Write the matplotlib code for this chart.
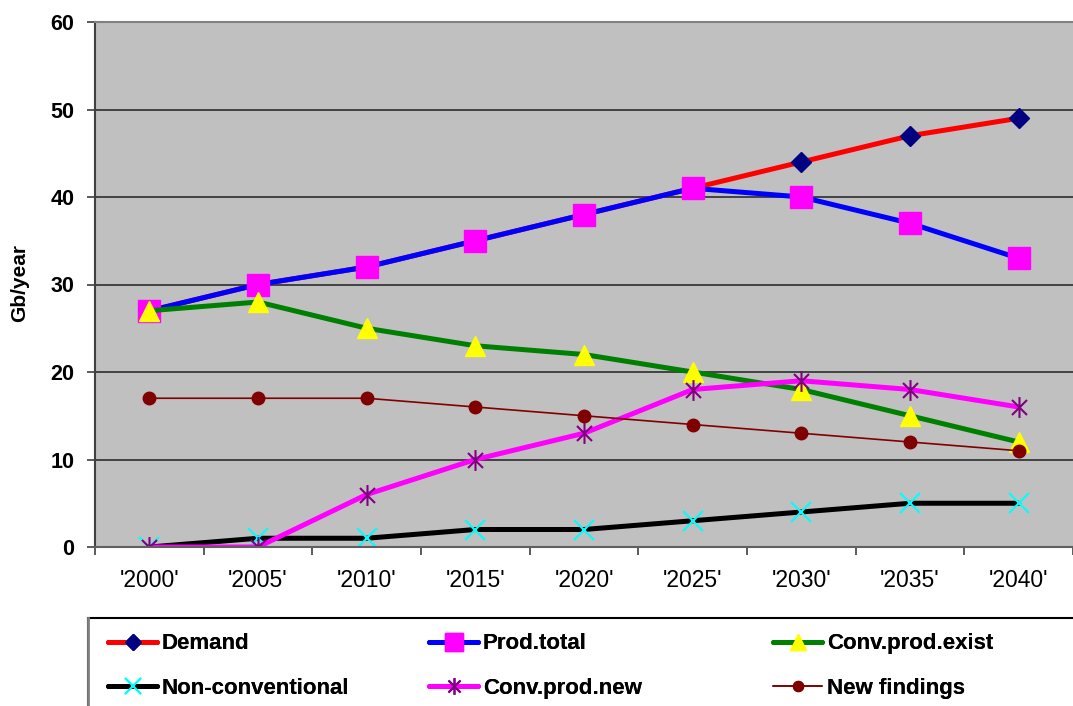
import matplotlib
matplotlib.use("Agg")
import matplotlib.pyplot as plt
from matplotlib.path import Path
from matplotlib.patches import Rectangle
from matplotlib.lines import Line2D

plt.rcParams['font.family'] = ['Liberation Sans', 'DejaVu Sans']

categories = ["'2000'", "'2005'", "'2010'", "'2015'", "'2020'", "'2025'", "'2030'", "'2035'", "'2040'"]
demand = [27, 30, 32, 35, 38, 41, 44, 47, 49]
prod_total = [27, 30, 32, 35, 38, 41, 40, 37, 33]
conv_exist = [27, 28, 25, 23, 22, 20, 18, 15, 12]
non_conv = [0, 1, 1, 2, 2, 3, 4, 5, 5]
conv_new = [0, 0, 6, 10, 13, 18, 19, 18, 16]
new_findings = [17, 17, 17, 16, 15, 14, 13, 12, 11]
y_ticks = [0, 10, 20, 30, 40, 50, 60]

W, H = 1073, 706
fig = plt.figure(figsize=(W / 100, H / 100), dpi=100)
ax = fig.add_axes([95 / W, 1 - 547 / H, 1 - 95 / W, (547 - 22) / H])
ax.set_facecolor('#C0C0C0')

star = Path([(0, -1), (0, 1), (-0.72, -0.72), (0.72, 0.72), (-0.72, 0.72), (0.72, -0.72)],
            [Path.MOVETO, Path.LINETO, Path.MOVETO, Path.LINETO, Path.MOVETO, Path.LINETO])

x = list(range(len(categories)))
series = [
    ("Demand", demand, dict(color='#FF0000', lw=3.6, marker='D', ms=10, mfc='#000080', mec='#000080')),
    ("Prod.total", prod_total, dict(color='#0000FF', lw=3.6, marker='s', ms=15.5, mfc='#FF00FF', mec='#FF00FF')),
    ("Conv.prod.exist", conv_exist, dict(color='#008000', lw=3.6, marker='^', ms=15, mfc='#FFFF00', mec='#FFFF00')),
    ("Non-conventional", non_conv, dict(color='#000000', lw=3.6, marker='x', ms=14, mew=1.5, mec='#00FFFF')),
    ("Conv.prod.new", conv_new, dict(color='#FF00FF', lw=3.6, marker=star, ms=15, mew=1.5, mec='#800080', mfc='none')),
    ("New findings", new_findings, dict(color='#800000', lw=1.2, marker='o', ms=9, mfc='#800000', mec='#800000')),
]
handles = []
for name, vals, kw in series:
    h, = ax.plot(x, vals, label=name, solid_joinstyle='round', solid_capstyle='round', **kw)
    handles.append(h)

ax.set_ylim(0, 60)
ax.set_xlim(-0.5, 8.5 - 7.5 / 109.5)
ax.set_yticks(y_ticks)
ax.set_yticklabels([str(v) for v in y_ticks], fontsize=15.5, fontweight='bold')
ax.set_xticks(x)
ax.set_xticklabels(categories, fontsize=16.5)
ax.set_xticks([i + 0.5 for i in range(-1, 9)], minor=True)
ax.tick_params(axis='x', which='major', length=0, pad=16)
ax.tick_params(axis='x', which='minor', length=6, width=1.2, color='#404040', direction='out')
ax.tick_params(axis='y', which='major', length=6, width=1.2, color='#404040', pad=9)
ax.yaxis.grid(True, color='#202020', lw=1.1)
ax.set_axisbelow(True)
ax.spines['right'].set_visible(False)
ax.spines['top'].set_color('#808080')
ax.spines['top'].set_linewidth(1.5)
ax.spines['left'].set_color('#404040')
ax.spines['left'].set_linewidth(1.5)
ax.spines['bottom'].set_color('#606060')
ax.spines['bottom'].set_linewidth(1.5)

fig.text(20 / W, 1 - 283 / H, 'Gb/year', rotation=90, ha='center', va='center',
         fontsize=15, fontweight='bold')

# legend frame
fig.patches.append(Rectangle((88 / W, -0.05), 1.1, 0.05 + (706 - 618) / H, transform=fig.transFigure,
                             facecolor='white', edgecolor='black', lw=1.5, zorder=0))
fig.add_artist(Line2D([88 / W, 88 / W], [0, 1 - 618 / H], transform=fig.transFigure, color='#808080', lw=2))

cols = [(0, 3), (1, 4), (2, 5)]
xs = [104, 425, 769]
for (a, b), xpos in zip(cols, xs):
    leg = fig.legend([handles[a], handles[b]], [series[a][0], series[b][0]],
                     loc='upper left', bbox_to_anchor=(xpos / W, 1 - 629 / H),
                     frameon=False, handlelength=2.2, handletextpad=0.2,
                     labelspacing=1.05, borderpad=0.2, borderaxespad=0, markerscale=0.8,
                     prop={'weight': 'bold', 'size': 16})
    fig.add_artist(leg)

fig.savefig('out.png', dpi=100)
